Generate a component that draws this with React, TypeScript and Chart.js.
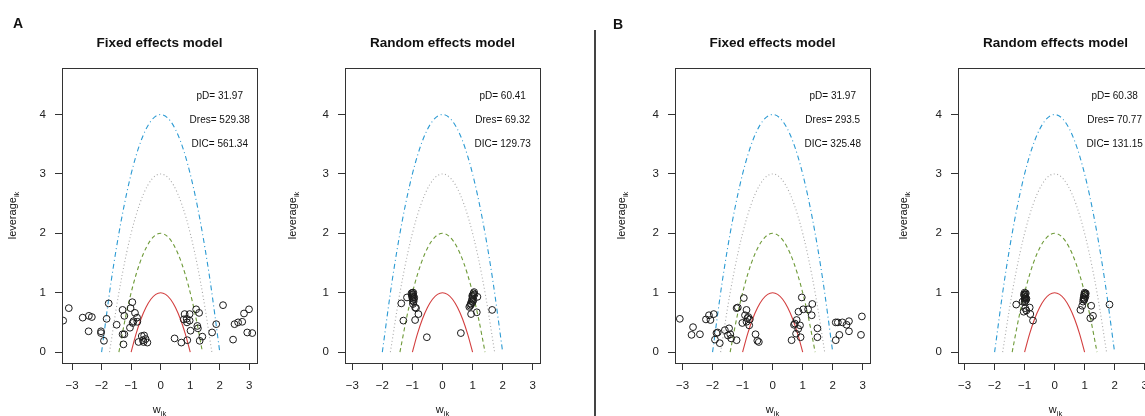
import React, { useEffect, useRef } from "react";
import { Chart, registerables } from "chart.js";

Chart.register(...registerables);

const FONT = '"Liberation Sans", Arial, Helvetica, sans-serif';

// ---------- text / stats ----------
const panelTitles = ["Fixed effects model", "Random effects model", "Fixed effects model", "Random effects model"];
const panelTags = ["A", "", "B", ""];
const pDValues = [31.97, 60.41, 31.97, 60.38];
const DresValues = [529.38, 69.32, 293.5, 70.77];
const DICValues = [561.34, 129.73, 325.48, 131.15];
const xTickValues = [-3, -2, -1, 0, 1, 2, 3];
const yTickValues = [0, 1, 2, 3, 4];

// ---------- panel A: fixed effects ----------
const fixedA_w = [
  -3.3, -3.11, -2.64, -2.43, -2.33, -2.44, -2.02, -2.02, -1.92, -1.83, -1.76, -1.49, -1.29, -1.23, -1.29, -1.23,
  -1.26, -1.04, -1.02, -0.96, -0.95, -0.87, -0.8, -0.79, -0.92, -0.75, -0.64, -0.56, -0.58, -0.51, -0.45, -0.6,
  0.47, 0.7, 0.81, 0.98, 0.78, 0.88, 0.98, 0.89, 1.2, 1.3, 1.24, 1.26, 1.01, 0.9, 1.32, 1.41,
  1.74, 1.88, 2.11, 2.45, 2.5, 2.62, 2.76, 2.82, 2.99, 2.93, 3.1,
];
const fixedA_lev = [
  0.53, 0.74, 0.58, 0.61, 0.59, 0.35, 0.35, 0.32, 0.19, 0.56, 0.82, 0.46, 0.71, 0.61, 0.3, 0.3,
  0.13, 0.41, 0.74, 0.84, 0.49, 0.66, 0.58, 0.51, 0.52, 0.17, 0.27, 0.28, 0.17, 0.22, 0.16, 0.2,
  0.23, 0.16, 0.64, 0.64, 0.55, 0.56, 0.53, 0.5, 0.72, 0.66, 0.44, 0.4, 0.36, 0.2, 0.19, 0.26,
  0.33, 0.47, 0.79, 0.21, 0.47, 0.5, 0.51, 0.65, 0.72, 0.33, 0.32,
];

// ---------- panel A: random effects ----------
const randomA_w = [
  -1.0, -0.98, -1.02, -0.97, -1.0, -0.95, -0.99, -0.96, -1.03, -0.97, -1.01, -0.94,
  -1.37, -1.18, -1.3, -0.98, -0.91, -0.88, -0.91, -0.8, -0.52, 0.61, 0.95, 1.14, 0.89, 1.16, 1.65,
  0.92, 0.94, 0.97, 0.99, 1.0, 1.02, 1.03, 1.05, 0.99, 1.06, 1.03, 0.95, 1.0,
];
const randomA_lev = [
  1.0, 0.97, 0.96, 0.93, 0.91, 0.89, 0.87, 0.85, 0.99, 1.0, 0.94, 0.92,
  0.82, 0.92, 0.53, 0.81, 0.75, 0.74, 0.54, 0.64, 0.25, 0.32, 0.64, 0.67, 0.76, 0.93, 0.71,
  0.78, 0.82, 0.86, 0.9, 0.93, 0.96, 0.99, 1.01, 0.95, 0.97, 0.88, 0.8, 0.84,
];

// ---------- panel B: fixed effects ----------
const fixedB_w = [
  -3.09, -2.7, -2.65, -2.42, -2.22, -2.12, -2.07, -1.96, -1.87, -1.83, -1.92, -1.76, -1.59, -1.45, -1.49, -1.41,
  -1.38, -1.2, -1.2, -1.16, -0.96, -1.01, -0.87, -0.92, -0.87, -0.81, -0.78, -0.76, -0.84, -0.57, -0.51, -0.46,
  0.63, 0.71, 0.74, 0.78, 0.8, 0.85, 0.91, 0.93, 0.86, 0.97, 1.02, 1.18, 1.32, 1.3, 1.49, 1.49,
  2.1, 2.1, 2.17, 2.22, 2.32, 2.46, 2.54, 2.54, 2.94, 2.97,
];
const fixedB_lev = [
  0.56, 0.29, 0.42, 0.3, 0.55, 0.62, 0.54, 0.64, 0.32, 0.33, 0.21, 0.15, 0.37, 0.4, 0.28, 0.3,
  0.23, 0.2, 0.74, 0.75, 0.91, 0.49, 0.71, 0.62, 0.51, 0.59, 0.45, 0.55, 0.57, 0.3, 0.19, 0.17,
  0.2, 0.46, 0.48, 0.31, 0.54, 0.39, 0.45, 0.25, 0.68, 0.92, 0.72, 0.72, 0.81, 0.62, 0.4, 0.25,
  0.2, 0.5, 0.5, 0.29, 0.5, 0.46, 0.52, 0.35, 0.29, 0.6,
];

// ---------- panel B: random effects ----------
const randomB_w = [
  -1.0, -0.98, -1.01, -0.97, -1.0, -0.95, -0.98, -1.02, -0.96, -0.99, -0.94, -1.0,
  -1.28, -1.03, -0.94, -0.83, -0.81, -0.72, -1.07, -0.98,
  1.0, 0.98, 1.02, 0.97, 1.0, 0.99, 1.03, 0.95, 1.01, 0.96, 1.04,
  0.86, 0.92, 1.22, 1.19, 1.28, 1.83,
];
const randomB_lev = [
  1.0, 0.97, 0.95, 0.92, 0.9, 0.88, 0.86, 0.97, 0.99, 0.93, 0.9, 0.84,
  0.8, 0.68, 0.7, 0.75, 0.64, 0.53, 0.85, 0.74,
  1.0, 0.96, 0.97, 0.92, 0.9, 0.88, 0.94, 0.85, 0.98, 0.89, 0.99,
  0.71, 0.78, 0.78, 0.57, 0.61, 0.8,
];

// ---------- reference parabolas (leverage = c - w^2, c = 1..4) ----------
const curve1_w = [-1, -0.833, -0.667, -0.5, -0.333, -0.167, 0, 0.167, 0.333, 0.5, 0.667, 0.833, 1];
const curve1_lev = [0, 0.306, 0.556, 0.75, 0.889, 0.972, 1, 0.972, 0.889, 0.75, 0.556, 0.306, 0];
const curve2_w = [-1.414, -1.179, -0.943, -0.707, -0.471, -0.236, 0, 0.236, 0.471, 0.707, 0.943, 1.179, 1.414];
const curve2_lev = [0, 0.611, 1.111, 1.5, 1.778, 1.944, 2, 1.944, 1.778, 1.5, 1.111, 0.611, 0];
const curve3_w = [-1.732, -1.443, -1.155, -0.866, -0.577, -0.289, 0, 0.289, 0.577, 0.866, 1.155, 1.443, 1.732];
const curve3_lev = [0, 0.917, 1.667, 2.25, 2.667, 2.917, 3, 2.917, 2.667, 2.25, 1.667, 0.917, 0];
const curve4_w = [-2, -1.667, -1.333, -1, -0.667, -0.333, 0, 0.333, 0.667, 1, 1.333, 1.667, 2];
const curve4_lev = [0, 1.222, 2.222, 3, 3.556, 3.889, 4, 3.889, 3.556, 3, 2.222, 1.222, 0];

const panelW = [fixedA_w, randomA_w, fixedB_w, randomB_w];
const panelLev = [fixedA_lev, randomA_lev, fixedB_lev, randomB_lev];

// ---------- layout (pixels) ----------
const PAGE_W = 1145;
const PAGE_H = 416;
const BOX_TOP = 68;
const BOX_BOTTOM = 363;
const layouts = [
  { left: 0, width: 285, boxLeft: 62, boxRight: 257, xMin: -3.34, xMax: 3.26, ylabOff: 46.5, tagX: 13, tagY: 27.5 },
  { left: 285, width: 305, boxLeft: 345, boxRight: 540, xMin: -3.24, xMax: 3.24, ylabOff: 49, tagX: 0, tagY: 0 },
  { left: 598, width: 282, boxLeft: 675, boxRight: 870, xMin: -3.25, xMax: 3.24, ylabOff: 50, tagX: 613, tagY: 29 },
  { left: 880, width: 320, boxLeft: 958, boxRight: 1153, xMin: -3.22, xMax: 3.28, ylabOff: 51, tagX: 0, tagY: 0 },
];

function toXY(ws: number[], ls: number[]) {
  return ws.map((w, i) => ({ x: w, y: ls[i] }));
}

function drawSubLabel(ctx: CanvasRenderingContext2D, main: string, sub: string) {
  const mainFont = `11px ${FONT}`;
  const subFont = `7.5px ${FONT}`;
  ctx.font = mainFont;
  const w1 = ctx.measureText(main).width;
  ctx.font = subFont;
  const w2 = ctx.measureText(sub).width;
  const start = -(w1 + w2) / 2;
  ctx.textAlign = "left";
  ctx.textBaseline = "alphabetic";
  ctx.font = mainFont;
  ctx.fillText(main, start, 0);
  ctx.font = subFont;
  ctx.fillText(sub, start + w1, 3);
}

const decorPlugin = {
  id: "decor",
  afterDraw(chart: any) {
    const o = chart.options.plugins.decor;
    const { ctx, chartArea: a } = chart;
    const xs = chart.scales.x;
    const ys = chart.scales.y;
    ctx.save();
    // frame
    ctx.strokeStyle = "#333";
    ctx.lineWidth = 1;
    ctx.strokeRect(Math.round(a.left) + 0.5, Math.round(a.top) + 0.5, Math.round(a.right - a.left), Math.round(a.bottom - a.top));
    ctx.fillStyle = "#111";
    // title
    ctx.font = `bold 13.5px ${FONT}`;
    ctx.textAlign = "center";
    ctx.textBaseline = "alphabetic";
    ctx.fillText(o.title, (a.left + a.right) / 2, 46.5);
    // stats
    ctx.font = `10px ${FONT}`;
    ctx.textBaseline = "middle";
    const sx = xs.getPixelForValue(2);
    ctx.fillText(`pD= ${o.pD}`, sx, ys.getPixelForValue(4.3));
    ctx.fillText(`Dres= ${o.Dres}`, sx, ys.getPixelForValue(3.9));
    ctx.fillText(`DIC= ${o.DIC}`, sx, ys.getPixelForValue(3.5));
    // x label
    ctx.save();
    ctx.translate((a.left + a.right) / 2, 413);
    drawSubLabel(ctx, "w", "ik");
    ctx.restore();
    // y label
    ctx.save();
    ctx.translate(a.left - o.ylabOff, (a.top + a.bottom) / 2);
    ctx.rotate(-Math.PI / 2);
    drawSubLabel(ctx, "leverage", "ik");
    ctx.restore();
    // panel tag
    if (o.tag) {
      ctx.font = `bold 14px ${FONT}`;
      ctx.textAlign = "left";
      ctx.textBaseline = "alphabetic";
      ctx.fillText(o.tag, o.tagX, o.tagY);
    }
    ctx.restore();
  },
};

function Panel({ idx }: { idx: number }) {
  const ref = useRef<HTMLCanvasElement | null>(null);
  const L = layouts[idx];
  useEffect(() => {
    if (!ref.current) return;
    const curveStyle = (data: any, color: string, dash: number[]) => ({
      data,
      showLine: true,
      borderColor: color,
      borderWidth: 1.1,
      borderDash: dash,
      pointRadius: 0,
      fill: false,
      cubicInterpolationMode: "monotone",
      order: 1,
    });
    const chart = new Chart(ref.current, {
      type: "scatter",
      data: {
        datasets: [
          {
            data: toXY(panelW[idx], panelLev[idx]),
            pointRadius: 3.4,
            pointBorderWidth: 1,
            borderColor: "#1a1a1a",
            backgroundColor: "rgba(0,0,0,0)",
            pointBackgroundColor: "rgba(0,0,0,0)",
            order: 0,
          } as any,
          curveStyle(toXY(curve1_w, curve1_lev), "#D33F3F", []) as any,
          curveStyle(toXY(curve2_w, curve2_lev), "#6E9A38", [4, 3]) as any,
          curveStyle(toXY(curve3_w, curve3_lev), "#A8A8A8", [1, 2.5]) as any,
          curveStyle(toXY(curve4_w, curve4_lev), "#2B9AD3", [5, 3, 1, 3]) as any,
        ],
      },
      options: {
        animation: false,
        responsive: false,
        devicePixelRatio: 1,
        layout: { padding: { top: BOX_TOP, left: 0, right: L.left + L.width - L.boxRight, bottom: 0 } },
        plugins: {
          legend: { display: false },
          tooltip: { enabled: false },
          decor: {
            title: panelTitles[idx],
            tag: panelTags[idx],
            pD: pDValues[idx],
            Dres: DresValues[idx],
            DIC: DICValues[idx],
            ylabOff: L.ylabOff,
            tagX: L.tagX - L.left,
            tagY: L.tagY,
          },
        } as any,
        scales: {
          x: {
            type: "linear",
            min: L.xMin,
            max: L.xMax,
            afterFit: (s: any) => {
              s.height = PAGE_H - BOX_BOTTOM;
            },
            afterBuildTicks: (s: any) => {
              s.ticks = xTickValues.map((v) => ({ value: v }));
            },
            border: { display: false },
            grid: { drawOnChartArea: false, drawTicks: true, tickLength: 7, color: "#333", lineWidth: 1 },
            ticks: {
              padding: 9,
              color: "#222",
              font: { family: FONT, size: 11.5 },
              maxRotation: 0,
              autoSkip: false,
              callback: (v: any) => String(v).replace("-", "\u2212"),
            },
          },
          y: {
            type: "linear",
            min: -0.184,
            max: 4.784,
            afterFit: (s: any) => {
              s.width = L.boxLeft - L.left;
            },
            afterBuildTicks: (s: any) => {
              s.ticks = yTickValues.map((v) => ({ value: v }));
            },
            border: { display: false },
            grid: { drawOnChartArea: false, drawTicks: true, tickLength: 7, color: "#333", lineWidth: 1 },
            ticks: {
              padding: 9,
              color: "#222",
              font: { family: FONT, size: 11.5 },
              autoSkip: false,
              callback: (v: any) => String(v),
            },
          },
        },
      },
      plugins: [decorPlugin as any],
    });
    return () => chart.destroy();
  }, [idx]);
  return (
    <canvas
      ref={ref}
      width={L.width}
      height={PAGE_H}
      style={{ position: "absolute", left: L.left, top: 0, width: L.width, height: PAGE_H }}
    />
  );
}

export default function App() {
  return (
    <div
      style={{
        position: "absolute",
        left: 0,
        top: 0,
        width: PAGE_W,
        height: PAGE_H,
        overflow: "hidden",
        background: "#fff",
      }}
    >
      {layouts.map((_, i) => (
        <Panel key={i} idx={i} />
      ))}
      <div style={{ position: "absolute", left: 594, top: 30, width: 2, height: PAGE_H - 30, background: "#444" }} />
    </div>
  );
}
